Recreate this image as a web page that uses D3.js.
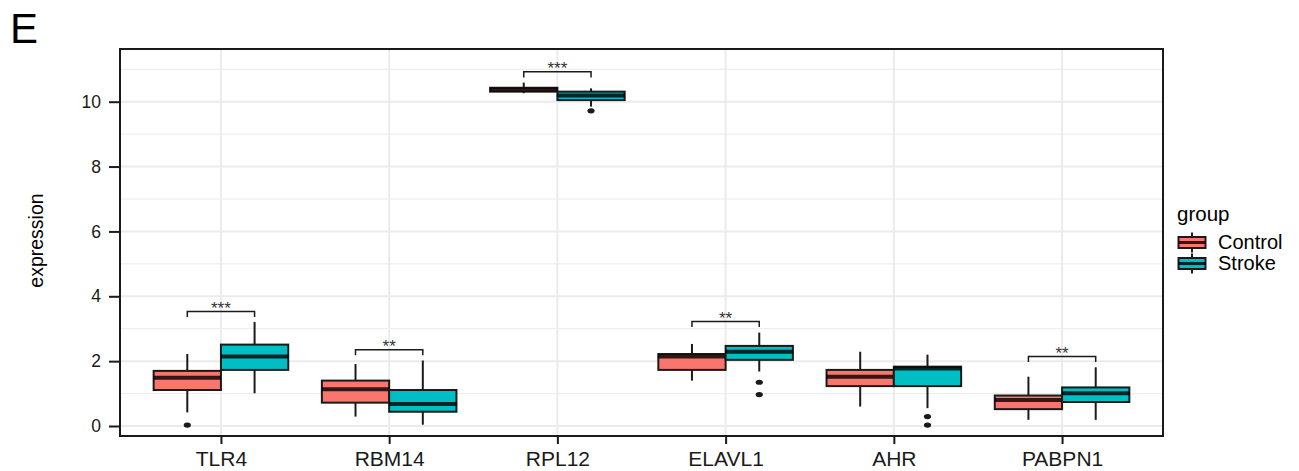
<!DOCTYPE html>
<meta charset="utf-8">
<style>
body { margin: 0; background: #fff; }
svg text { font-family: "Liberation Sans", Arial, sans-serif; }
.axis path { display: none; }
.axis line { stroke: #1a1a1a; stroke-width: 2; }
.axis text { fill: #1a1a1a; }
.y.axis text { font-size: 17.5px; }
.x.axis text { font-size: 21px; }
</style>
<body>
<div id="chart"></div>
<script src="https://d3js.org/d3.v7.min.js"></script>
<script>
// data
var genes = ["TLR4", "RBM14", "RPL12", "ELAVL1", "AHR", "PABPN1"];
var groups = ["Control", "Stroke"];
var groupColors = ["#F8766D", "#00BFC4"];

// [lower whisker, q1, median, q3, upper whisker]
var controlStats = [
  [0.42, 1.11, 1.49, 1.70, 2.22],
  [0.29, 0.72, 1.13, 1.40, 1.91],
  [10.26, 10.31, 10.38, 10.43, 10.59],
  [1.40, 1.73, 2.14, 2.22, 2.53],
  [0.60, 1.23, 1.52, 1.73, 2.29],
  [0.19, 0.52, 0.80, 0.94, 1.52]
];
var strokeStats = [
  [1.01, 1.73, 2.14, 2.51, 3.21],
  [0.04, 0.44, 0.68, 1.11, 2.02],
  [9.85, 10.05, 10.19, 10.31, 10.41],
  [1.68, 2.04, 2.29, 2.47, 2.88],
  [0.55, 1.23, 1.77, 1.83, 2.20],
  [0.19, 0.74, 1.01, 1.19, 1.81]
];
var controlOutliers = [[0.03], [], [], [], [], []];
var strokeOutliers = [[], [], [9.72], [1.35, 0.97], [0.29, 0.03], []];

var sigLabels = ["***", "**", "***", "**", "", "**"];
var sigY = [3.53, 2.35, 10.92, 3.22, null, 2.14];

var yTicks = [0, 2, 4, 6, 8, 10];
var yMinor = [1, 3, 5, 7, 9, 11];

var W = 1299, H = 471;
var panel = {left: 120, right: 1163, top: 49, bottom: 436};

var svg = d3.select("#chart").append("svg").attr("width", W).attr("height", H);

var x = d3.scalePoint().domain(genes).range([panel.left, panel.right]).padding(0.6);
var step = x.step();
var dodge = d3.scaleBand().domain(groups).range([-0.4 * step, 0.4 * step]);
var y = d3.scaleLinear().domain([-0.308, 11.625]).range([panel.bottom, panel.top]);

// grid
var grid = svg.append("g");
grid.selectAll(".minor").data(yMinor).enter().append("line")
  .attr("x1", panel.left).attr("x2", panel.right)
  .attr("y1", function(d) { return y(d); }).attr("y2", function(d) { return y(d); })
  .attr("stroke", "#EBEBEB").attr("stroke-width", 1);
grid.selectAll(".major").data(yTicks).enter().append("line")
  .attr("x1", panel.left).attr("x2", panel.right)
  .attr("y1", function(d) { return y(d); }).attr("y2", function(d) { return y(d); })
  .attr("stroke", "#EBEBEB").attr("stroke-width", 2);
grid.selectAll(".vmajor").data(genes).enter().append("line")
  .attr("y1", panel.top).attr("y2", panel.bottom)
  .attr("x1", function(d) { return x(d); }).attr("x2", function(d) { return x(d); })
  .attr("stroke", "#EBEBEB").attr("stroke-width", 2);

// boxes
var boxes = [];
genes.forEach(function(g, i) {
  boxes.push({gene: g, group: "Control", s: controlStats[i], out: controlOutliers[i], color: groupColors[0]});
  boxes.push({gene: g, group: "Stroke", s: strokeStats[i], out: strokeOutliers[i], color: groupColors[1]});
});

var bw = dodge.bandwidth();
var bg = svg.append("g").selectAll("g").data(boxes).enter().append("g")
  .attr("transform", function(d) { return "translate(" + (x(d.gene) + dodge(d.group) + bw / 2) + ",0)"; });

bg.append("line")
  .attr("x1", 0).attr("x2", 0)
  .attr("y1", function(d) { return y(d.s[4]); }).attr("y2", function(d) { return y(d.s[3]); })
  .attr("stroke", "#1a1a1a").attr("stroke-width", 2);
bg.append("line")
  .attr("x1", 0).attr("x2", 0)
  .attr("y1", function(d) { return y(d.s[1]); }).attr("y2", function(d) { return y(d.s[0]); })
  .attr("stroke", "#1a1a1a").attr("stroke-width", 2);
bg.append("rect")
  .attr("x", -bw / 2).attr("width", bw)
  .attr("y", function(d) { return y(d.s[3]); })
  .attr("height", function(d) { return y(d.s[1]) - y(d.s[3]); })
  .attr("fill", function(d) { return d.color; })
  .attr("stroke", "#1a1a1a").attr("stroke-width", 2);
bg.append("line")
  .attr("x1", -bw / 2).attr("x2", bw / 2)
  .attr("y1", function(d) { return y(d.s[2]); }).attr("y2", function(d) { return y(d.s[2]); })
  .attr("stroke", "#000").attr("stroke-opacity", 0.8).attr("stroke-width", 4);
bg.selectAll("ellipse").data(function(d) { return d.out; }).enter().append("ellipse")
  .attr("cx", 0).attr("cy", function(v) { return y(v); })
  .attr("rx", 3.6).attr("ry", 2.6).attr("fill", "#1a1a1a");

// significance brackets
var sig = svg.append("g");
genes.forEach(function(g, i) {
  if (sigY[i] == null) return;
  var x1 = x(g) + dodge("Control") + bw / 2, x2 = x(g) + dodge("Stroke") + bw / 2;
  var yy = y(sigY[i]), tip = y(sigY[i] - 0.17);
  sig.append("path")
    .attr("d", "M" + x1 + "," + tip + "V" + yy + "H" + x2 + "V" + tip)
    .attr("fill", "none").attr("stroke", "#1a1a1a").attr("stroke-width", 1.5);
  sig.append("text")
    .attr("x", (x1 + x2) / 2).attr("y", yy + 2.5)
    .attr("text-anchor", "middle")
    .style("font-size", "17px").style("fill", "#333")
    .text(sigLabels[i]);
});

// panel border
svg.append("rect")
  .attr("x", panel.left).attr("y", panel.top)
  .attr("width", panel.right - panel.left).attr("height", panel.bottom - panel.top)
  .attr("fill", "none").attr("stroke", "#1a1a1a").attr("stroke-width", 2);

// axes
svg.append("g").attr("class", "y axis")
  .attr("transform", "translate(" + panel.left + ",0)")
  .call(d3.axisLeft(y).tickValues(yTicks).tickSize(11).tickPadding(8).tickFormat(d3.format("d")));
svg.append("g").attr("class", "x axis")
  .attr("transform", "translate(0," + panel.bottom + ")")
  .call(d3.axisBottom(x).tickSize(8).tickPadding(7));

svg.append("text")
  .attr("transform", "translate(43," + ((panel.top + panel.bottom) / 2 - 2) + ") rotate(-90)")
  .attr("text-anchor", "middle")
  .style("font-size", "19.5px").style("fill", "#000")
  .text("expression");

svg.append("text")
  .attr("x", 10).attr("y", 43)
  .style("font-size", "42px").style("fill", "#000")
  .text("E");

// legend
var leg = svg.append("g").attr("transform", "translate(1177,0)");
leg.append("text").attr("x", 0).attr("y", 221)
  .style("font-size", "20.5px").style("fill", "#000").text("group");
var keys = leg.selectAll(".key").data(groups).enter().append("g")
  .attr("transform", function(d, i) { return "translate(0," + (232.5 + i * 21) + ")"; });
keys.append("line").attr("x1", 15).attr("x2", 15).attr("y1", 0).attr("y2", 20)
  .attr("stroke", "#1a1a1a").attr("stroke-width", 2);
keys.append("rect").attr("x", 1.5).attr("y", 4.5).attr("width", 27).attr("height", 11)
  .attr("fill", function(d, i) { return groupColors[i]; })
  .attr("stroke", "#1a1a1a").attr("stroke-width", 2);
keys.append("line").attr("x1", 1.5).attr("x2", 28.5).attr("y1", 10).attr("y2", 10)
  .attr("stroke", "#000").attr("stroke-opacity", 0.8).attr("stroke-width", 3);
keys.append("text").attr("x", 41).attr("y", 16)
  .style("font-size", "20px").style("fill", "#000")
  .text(function(d) { return d; });
</script>
</body>
